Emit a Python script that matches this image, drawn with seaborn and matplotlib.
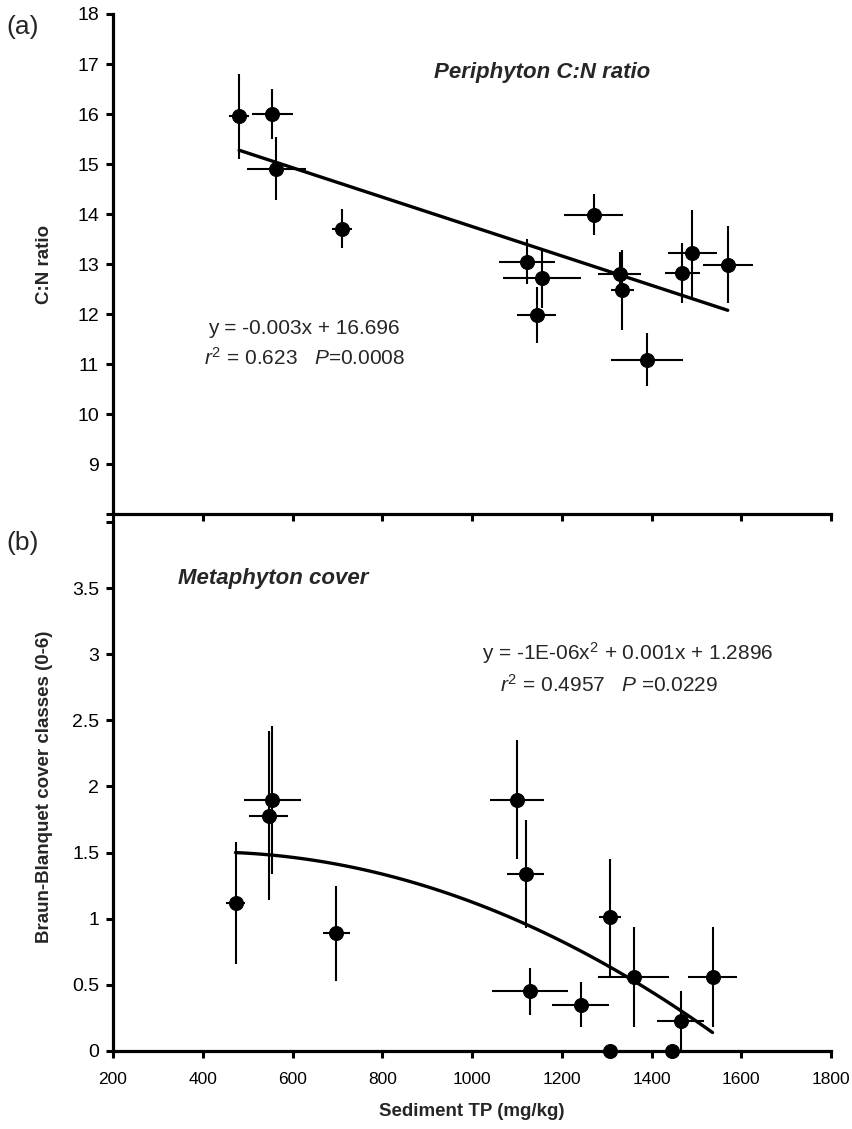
import numpy as np
import pandas as pd
import matplotlib
matplotlib.use("Agg")
import matplotlib.pyplot as plt
import seaborn as sns

# Panel (a): periphyton C:N ratio vs sediment TP
cn_tp = [481, 555, 564, 711, 1271, 1122, 1155, 1144, 1329, 1335, 1390, 1468, 1491, 1570]
cn_tp_err = [22, 45, 65, 22, 65, 62, 87, 43, 48, 26, 80, 39, 54, 56]
cn_ratio = [15.96, 16.0, 14.91, 13.71, 13.99, 13.05, 12.72, 11.99, 12.8, 12.48, 11.09, 12.83, 13.22, 12.99]
cn_ratio_err = [0.85, 0.5, 0.63, 0.39, 0.41, 0.45, 0.6, 0.56, 0.45, 0.8, 0.53, 0.6, 0.87, 0.77]
cn_fit = [-0.00294, 16.69]  # slope, intercept of drawn line

# Panel (b): metaphyton cover vs sediment TP
mc_tp = [473, 555, 547, 698, 1100, 1120, 1307, 1360, 1536, 1130, 1242, 1465, 1308, 1445]
mc_tp_err = [21, 63, 44, 30, 60, 41, 25, 79, 54, 85, 63, 53, 0, 0]
mc_cover = [1.12, 1.90, 1.78, 0.89, 1.90, 1.34, 1.01, 0.56, 0.56, 0.45, 0.35, 0.23, 0.0, 0.0]
mc_cover_err = [0.46, 0.56, 0.64, 0.36, 0.45, 0.41, 0.44, 0.38, 0.38, 0.18, 0.17, 0.22, 0, 0]
mc_fit = [-1.0636e-6, 0.000857, 1.3327]  # quadratic coefficients of drawn curve

x_ticks = [200, 400, 600, 800, 1000, 1200, 1400, 1600, 1800]

sns.set_style("ticks")
plt.rcParams['font.family'] = ['Liberation Sans', 'DejaVu Sans']
plt.rcParams['mathtext.fontset'] = 'custom'
plt.rcParams['mathtext.rm'] = 'Liberation Sans'
plt.rcParams['mathtext.it'] = 'Liberation Sans:italic'

fig = plt.figure(figsize=(8.53, 11.29), dpi=100)
ax_a = fig.add_axes([0.1325, 0.5447, 0.8417, 0.4429])
ax_b = fig.add_axes([0.1325, 0.0691, 0.8417, 0.4686])


def style_axis(ax):
    for side in ["top", "right"]:
        ax.spines[side].set_visible(False)
    for side in ["left", "bottom"]:
        ax.spines[side].set_linewidth(2.3)
        ax.spines[side].set_color("black")
    ax.tick_params(direction="out", length=5, width=2.2, colors="black", labelsize=14)
    ax.tick_params(axis="y", pad=5)
    ax.tick_params(axis="x", pad=10, labelsize=12.5)
    ax.set_xlim(200, 1800)
    ax.set_xticks(x_ticks)
    ax.yaxis.set_label_coords(-0.083, 0.5)


# ---- panel (a)
df_a = pd.DataFrame({"TP": cn_tp, "CN": cn_ratio})
ax_a.errorbar(cn_tp, cn_ratio, xerr=cn_tp_err, yerr=cn_ratio_err, fmt="none",
              ecolor="black", elinewidth=1.5, capsize=0, zorder=2)
sns.scatterplot(data=df_a, x="TP", y="CN", color="black", s=100, edgecolor="black",
                ax=ax_a, zorder=3)
xa = np.linspace(min(cn_tp), max(cn_tp), 50)
sns.lineplot(x=xa, y=np.polyval(cn_fit, xa), color="black", linewidth=2.4, ax=ax_a)

style_axis(ax_a)
ax_a.set_ylim(8, 18)
ax_a.set_yticks(range(8, 19))
ax_a.set_yticklabels([""] + [str(v) for v in range(9, 19)])
ax_a.set_xticklabels([])
ax_a.set_xlabel("")
ax_a.set_ylabel("C:N ratio", fontsize=13.5, fontweight="bold")

ax_a.text(915, 16.84, "Periphyton C:N ratio", fontsize=16, fontweight="bold",
          fontstyle="italic", ha="left", va="center")
ax_a.text(626, 11.72, "y = -0.003x + 16.696", fontsize=15, ha="center", va="center")
ax_a.text(626, 11.12, r"$\it{r}^{2}$ = 0.623   $\it{P}$=0.0008", fontsize=15,
          ha="center", va="center")

# ---- panel (b)
df_b = pd.DataFrame({"TP": mc_tp, "Cover": mc_cover})
ax_b.errorbar(mc_tp, mc_cover, xerr=mc_tp_err, yerr=mc_cover_err, fmt="none",
              ecolor="black", elinewidth=1.5, capsize=0, zorder=2)
sns.scatterplot(data=df_b, x="TP", y="Cover", color="black", s=100, edgecolor="black",
                ax=ax_b, zorder=3, clip_on=False)
xb = np.linspace(min(mc_tp), max(mc_tp), 80)
sns.lineplot(x=xb, y=np.polyval(mc_fit, xb), color="black", linewidth=2.4, ax=ax_b)

style_axis(ax_b)
ax_b.set_ylim(0, 4)
ax_b.set_yticks([0, 0.5, 1, 1.5, 2, 2.5, 3, 3.5, 4])
ax_b.set_yticklabels(["0", "0.5", "1", "1.5", "2", "2.5", "3", "3.5", ""])
ax_b.set_xticklabels([str(v) for v in x_ticks])
ax_b.set_xlabel("Sediment TP (mg/kg)", fontsize=13.5, fontweight="bold", labelpad=12)
ax_b.set_ylabel("Braun-Blanquet cover classes (0-6)", fontsize=13.5, fontweight="bold")

ax_b.text(344, 3.575, "Metaphyton cover", fontsize=16, fontweight="bold",
          fontstyle="italic", ha="left", va="center")
ax_b.text(1347, 3.01, r"y = -1E-06x$^{2}$ + 0.001x + 1.2896", fontsize=15,
          ha="center", va="center")
ax_b.text(1305, 2.77, r"$\it{r}^{2}$ = 0.4957   $\it{P}$ =0.0229", fontsize=15,
          ha="center", va="center")

fig.text(0.008, 0.976, "(a)", fontsize=19, ha="left", va="center")
fig.text(0.008, 0.519, "(b)", fontsize=19, ha="left", va="center")

fig.savefig("out.png", dpi=100)
